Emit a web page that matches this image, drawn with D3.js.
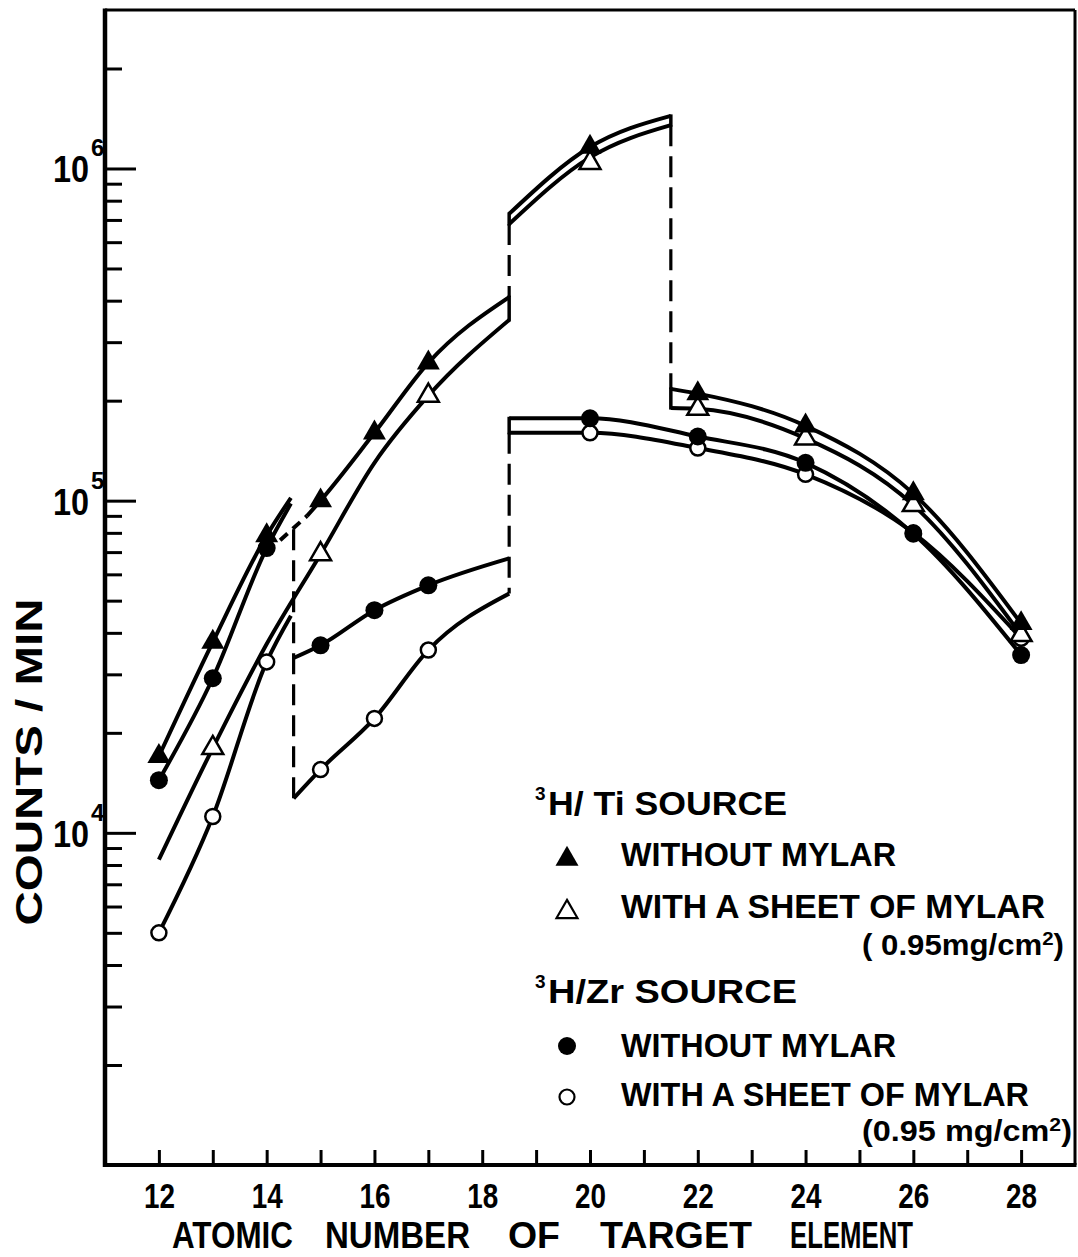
<!DOCTYPE html>
<html>
<head>
<meta charset="utf-8">
<script src="https://cdn.jsdelivr.net/npm/d3@7"></script>
<style>
  body { margin: 0; background: #fff; }
  svg { display: block; }
  text { font-family: "Liberation Sans", Arial, sans-serif; font-weight: bold; fill: #000; }
</style>
</head>
<body>
<svg id="chart" width="1078" height="1257"></svg>
<script>
// counts per minute vs atomic number of target, 3H/Ti and 3H/Zr sources
const zTicks = [12, 13, 14, 15, 16, 17, 18, 19, 20, 21, 22, 23, 24, 25, 26, 27, 28];
const zLabels = [12, 14, 16, 18, 20, 22, 24, 26, 28];
const yMajor = [1e4, 1e5, 1e6];
const yMajorExp = ["4", "5", "6"];
const yMinor = [2e3, 3e3, 4e3, 5e3, 6e3, 7e3, 8e3, 9e3,
                2e4, 3e4, 4e4, 5e4, 6e4, 7e4, 8e4, 9e4,
                2e5, 3e5, 4e5, 5e5, 6e5, 7e5, 8e5, 9e5, 2e6];

// measured points
const tiNoZ = [12, 13, 14, 15, 16, 17, 20, 22, 24, 26, 28];
const tiNoV = [1.7e4, 3.75e4, 7.85e4, 1.0e5, 1.6e5, 2.6e5, 1.16e6, 2.1e5, 1.68e5, 1.05e5, 4.27e4];
const tiMyZ = [13, 15, 17, 20, 22, 24, 26, 28];
const tiMyV = [1.8e4, 6.9e4, 2.07e5, 1.04e6, 1.89e5, 1.54e5, 9.7e4, 3.94e4];
const zrNoZ = [12, 13, 14, 15, 16, 17, 20, 22, 24, 26, 28];
const zrNoV = [1.44e4, 2.92e4, 7.2e4, 3.67e4, 4.68e4, 5.56e4, 1.77e5, 1.56e5, 1.3e5, 7.95e4, 3.43e4];
const zrMyZ = [12, 13, 14, 15, 16, 17, 20, 22, 24, 26, 28];
const zrMyV = [5.0e3, 1.12e4, 3.27e4, 1.55e4, 2.21e4, 3.55e4, 1.6e5, 1.44e5, 1.2e5, 8.0e4, 3.85e4];

// hand drawn curves, [Z, counts]
const tiNoCurves = [
  [[12, 1.7e4], [13, 3.75e4], [14, 7.85e4], [14.45, 1.02e5]],
  [[14.75, 9.0e4], [15, 1.0e5], [16, 1.6e5], [17, 2.6e5], [18.5, 4.1e5]],
  [[18.5, 7.3e5], [20, 1.16e6], [21.5, 1.44e6]],
  [[21.5, 2.17e5], [22, 2.1e5], [24, 1.68e5], [26, 1.05e5], [28, 4.27e4]]
];
const tiMyCurves = [
  [[12, 8.3e3], [13, 1.8e4], [14, 3.7e4], [15, 6.9e4], [16, 1.3e5], [17, 2.07e5], [18.5, 3.5e5]],
  [[18.5, 6.8e5], [20, 1.08e6], [21.5, 1.35e6]],
  [[21.5, 1.9e5], [22, 1.89e5], [24, 1.54e5], [26, 9.7e4], [28, 3.94e4]]
];
const zrNoCurves = [
  [[12, 1.44e4], [13, 2.92e4], [14, 7.2e4], [14.45, 9.8e4]],
  [[14.5, 3.36e4], [15, 3.67e4], [16, 4.68e4], [17, 5.56e4], [18.5, 6.7e4]],
  [[18.5, 1.77e5], [20, 1.77e5], [22, 1.56e5], [24, 1.3e5], [26, 7.95e4], [28, 3.43e4]]
];
const zrMyCurves = [
  [[12, 5.0e3], [13, 1.12e4], [14, 3.27e4], [14.45, 4.5e4]],
  [[14.5, 1.27e4], [15, 1.55e4], [16, 2.21e4], [17, 3.55e4], [18.5, 5.25e4]],
  [[18.5, 1.6e5], [20, 1.6e5], [22, 1.44e5], [24, 1.2e5], [26, 8.0e4], [28, 3.85e4]]
];
const tiNoDash = [[14.25, 7.6e4], [14.75, 9.0e4]];
// jumps at absorption edges: [Z, from, to]
const edgeDash = [[14.5, 8.2e4, 1.27e4], [18.5, 6.8e5, 4.1e5], [18.5, 1.6e5, 5.25e4], [21.5, 1.35e6, 2.17e5]];
const edgeBars = [[18.5, 4.1e5, 3.5e5], [18.5, 7.3e5, 6.8e5], [18.5, 1.77e5, 1.6e5],
                  [21.5, 1.44e6, 1.35e6], [21.5, 2.17e5, 1.9e5]];

const svg = d3.select("#chart");
const fr = { left: 105, right: 1075, top: 10, bottom: 1165 };

const x = d3.scaleLinear().domain([11, 29]).range([fr.left, fr.right]);
const y = d3.scaleLog().domain([1e3, 3e6]).range([fr.bottom, fr.top]);

// frame
svg.append("line").attr("x1", fr.left).attr("x2", fr.right).attr("y1", fr.top).attr("y2", fr.top)
  .attr("stroke", "#000").attr("stroke-width", 3);
svg.append("line").attr("x1", fr.right).attr("x2", fr.right).attr("y1", fr.top).attr("y2", fr.bottom)
  .attr("stroke", "#000").attr("stroke-width", 3);
svg.append("line").attr("x1", fr.left).attr("x2", fr.left).attr("y1", fr.top - 1.5).attr("y2", fr.bottom + 2)
  .attr("stroke", "#000").attr("stroke-width", 4.5);
svg.append("line").attr("x1", fr.left - 2).attr("x2", fr.right + 1.5).attr("y1", fr.bottom).attr("y2", fr.bottom)
  .attr("stroke", "#000").attr("stroke-width", 4);

// x ticks point inward
const xt = svg.append("g").attr("transform", `translate(0,${fr.bottom})`)
  .call(d3.axisTop(x).tickValues(zTicks).tickSize(15).tickFormat(""));
xt.select(".domain").remove();
xt.selectAll("line").attr("stroke-width", 3);

const xl = svg.append("g").attr("transform", `translate(0,${fr.bottom})`)
  .call(d3.axisBottom(x).tickValues(zLabels).tickSize(0).tickPadding(18));
xl.select(".domain").remove();
xl.selectAll("text").attr("font-size", 35).attr("fill", "#000")
  .attr("textLength", 31).attr("lengthAdjust", "spacingAndGlyphs");

// y ticks, major and minor
const ym = svg.append("g").attr("transform", `translate(${fr.left},0)`)
  .call(d3.axisRight(y).tickValues(yMajor).tickSize(31).tickFormat(""));
ym.select(".domain").remove();
ym.selectAll("line").attr("stroke-width", 3);
const yn = svg.append("g").attr("transform", `translate(${fr.left},0)`)
  .call(d3.axisRight(y).tickValues(yMinor).tickSize(17).tickFormat(""));
yn.select(".domain").remove();
yn.selectAll("line").attr("stroke-width", 3);

svg.selectAll(".ylab").data(yMajor).enter().append("text")
  .attr("class", "ylab")
  .attr("x", 89).attr("y", d => y(d) + 14)
  .attr("text-anchor", "end").attr("font-size", 36)
  .attr("textLength", 36).attr("lengthAdjust", "spacingAndGlyphs")
  .text("10");
svg.selectAll(".yexp").data(yMajor).enter().append("text")
  .attr("class", "yexp")
  .attr("x", 91).attr("y", d => y(d) - 12)
  .attr("font-size", 24)
  .text((d, i) => yMajorExp[i]);

// axis titles
svg.append("text")
  .attr("transform", "translate(42,762) rotate(-90)")
  .attr("text-anchor", "middle").attr("font-size", 37)
  .attr("textLength", 327).attr("lengthAdjust", "spacingAndGlyphs")
  .text("COUNTS / MIN");

const xWords = ["ATOMIC", "NUMBER", "OF", "TARGET", "ELEMENT"];
const xWordPos = [[172, 121], [325, 145], [508, 52], [600, 152], [790, 123]];
svg.selectAll(".xword").data(xWords).enter().append("text")
  .attr("class", "xword")
  .attr("x", (d, i) => xWordPos[i][0]).attr("y", 1248)
  .attr("font-size", 37)
  .attr("textLength", (d, i) => xWordPos[i][1]).attr("lengthAdjust", "spacingAndGlyphs")
  .text(d => d);

// curves
const line = d3.line().x(d => x(d[0])).y(d => y(d[1])).curve(d3.curveMonotoneX);
const allCurves = [].concat(tiNoCurves, tiMyCurves, zrNoCurves, zrMyCurves);
svg.append("g").selectAll("path").data(allCurves).enter().append("path")
  .attr("d", line)
  .attr("fill", "none").attr("stroke", "#000").attr("stroke-width", 4)
  .attr("stroke-linecap", "butt");

svg.append("path").datum(tiNoDash)
  .attr("d", line)
  .attr("fill", "none").attr("stroke", "#000").attr("stroke-width", 4)
  .attr("stroke-dasharray", "10,7");

svg.append("g").selectAll("line").data(edgeDash).enter().append("line")
  .attr("x1", d => x(d[0])).attr("x2", d => x(d[0]))
  .attr("y1", d => y(d[1])).attr("y2", d => y(d[2]))
  .attr("stroke", "#000").attr("stroke-width", 3.2)
  .attr("stroke-dasharray", "21,10");

svg.append("g").selectAll("line").data(edgeBars).enter().append("line")
  .attr("x1", d => x(d[0])).attr("x2", d => x(d[0]))
  .attr("y1", d => y(d[1]) - 1.5).attr("y2", d => y(d[2]) + 1.5)
  .attr("stroke", "#000").attr("stroke-width", 3.5);

// markers
const tri = d3.symbol().type(d3.symbolTriangle).size(229);
const tri2 = d3.symbol().type(d3.symbolTriangle).size(190);

function pts(zs, vs) { return zs.map((z, i) => [z, vs[i]]); }

svg.append("g").selectAll("circle").data(pts(zrMyZ, zrMyV)).enter().append("circle")
  .attr("cx", d => x(d[0])).attr("cy", d => y(d[1])).attr("r", 7.5)
  .attr("fill", "#fff").attr("stroke", "#000").attr("stroke-width", 2.5);
svg.append("g").selectAll("circle").data(pts(zrNoZ, zrNoV)).enter().append("circle")
  .attr("cx", d => x(d[0])).attr("cy", d => y(d[1])).attr("r", 9)
  .attr("fill", "#000");
svg.append("g").selectAll("path").data(pts(tiMyZ, tiMyV)).enter().append("path")
  .attr("transform", d => `translate(${x(d[0])},${y(d[1])})`)
  .attr("d", tri2)
  .attr("fill", "#fff").attr("stroke", "#000").attr("stroke-width", 2.5);
svg.append("g").selectAll("path").data(pts(tiNoZ, tiNoV)).enter().append("path")
  .attr("transform", d => `translate(${x(d[0])},${y(d[1])})`)
  .attr("d", tri)
  .attr("fill", "#000");

// legend
const lg = svg.append("g");
function note(yb, w, spaced) {
  const t = lg.append("text").attr("x", 862).attr("y", yb).attr("font-size", 29)
    .attr("textLength", w).attr("lengthAdjust", "spacingAndGlyphs");
  t.append("tspan").text(spaced ? "(0.95 mg/cm" : "( 0.95mg/cm");
  t.append("tspan").attr("dy", -10).attr("font-size", 19).text("2");
  t.append("tspan").attr("dy", 10).text(")");
}
function title(yb, label, w) {
  lg.append("text").attr("x", 535).attr("y", yb - 15).attr("font-size", 19).text("3");
  lg.append("text").attr("x", 548).attr("y", yb).attr("font-size", 34)
    .attr("textLength", w).attr("lengthAdjust", "spacingAndGlyphs").text(label);
}
function item(yb, label, w) {
  lg.append("text").attr("x", 621).attr("y", yb).attr("font-size", 33)
    .attr("textLength", w).attr("lengthAdjust", "spacingAndGlyphs").text(label);
}
title(815, "H/ Ti SOURCE", 239);
lg.append("path").attr("transform", "translate(567,859)").attr("d", tri).attr("fill", "#000");
item(866, "WITHOUT   MYLAR", 275);
lg.append("path").attr("transform", "translate(567,912)").attr("d", tri2)
  .attr("fill", "#fff").attr("stroke", "#000").attr("stroke-width", 2.2);
item(918, "WITH  A SHEET  OF  MYLAR", 424);
note(955, 202, false);
title(1003, "H/Zr  SOURCE", 249);
lg.append("circle").attr("cx", 567).attr("cy", 1046).attr("r", 9).attr("fill", "#000");
item(1057, "WITHOUT   MYLAR", 275);
lg.append("circle").attr("cx", 567).attr("cy", 1097).attr("r", 7.5)
  .attr("fill", "#fff").attr("stroke", "#000").attr("stroke-width", 2.2);
item(1106, "WITH  A  SHEET OF  MYLAR", 408);
note(1141, 210, true);
</script>
</body>
</html>
